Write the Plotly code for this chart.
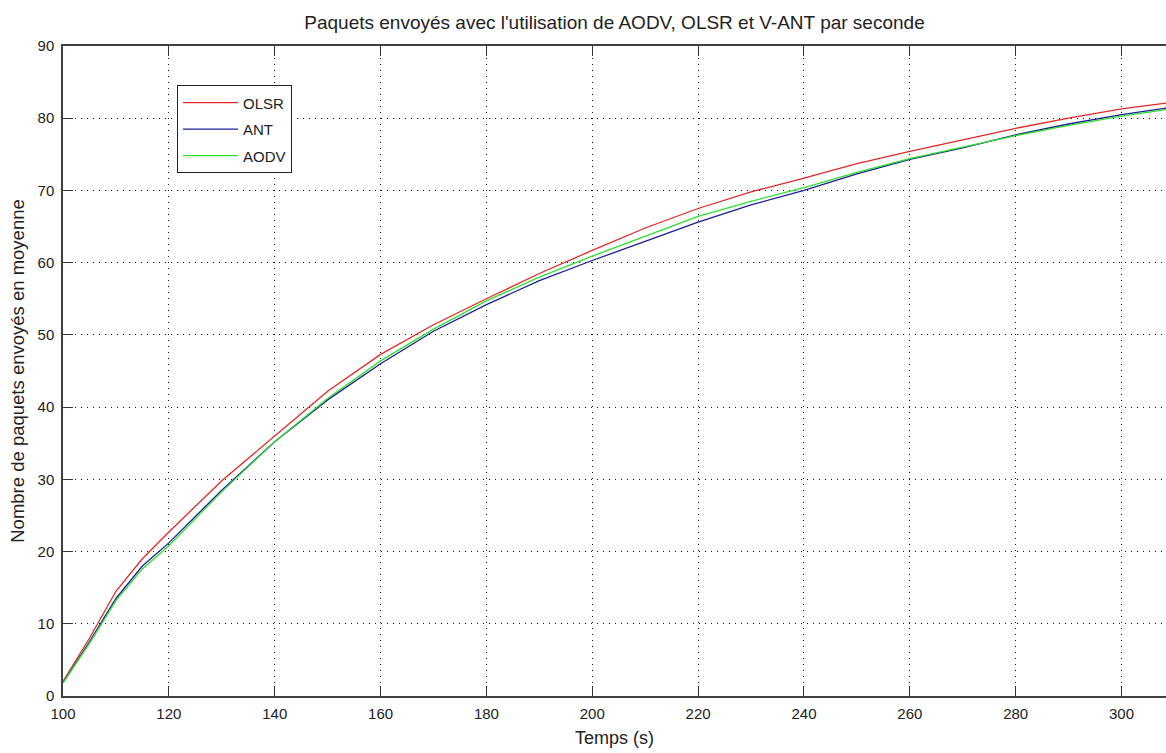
import plotly.graph_objects as go

temps = [100, 105, 110, 115, 120, 130, 140, 150, 160, 170, 180, 190, 200,
         210, 220, 230, 240, 250, 260, 270, 280, 290, 300, 308.4]
olsr = [2.0, 8.0, 14.5, 19.0, 22.7, 29.8, 36.0, 42.2, 47.3, 51.4, 55.0, 58.5, 61.7,
        64.8, 67.5, 69.8, 71.7, 73.7, 75.4, 77.0, 78.6, 80.0, 81.3, 82.1]
ant = [1.8, 7.5, 13.5, 18.0, 21.2, 28.5, 35.2, 41.0, 46.0, 50.5, 54.2, 57.5, 60.3,
       63.0, 65.6, 68.0, 70.0, 72.3, 74.3, 75.9, 77.7, 79.2, 80.5, 81.4]
aodv = [1.8, 7.3, 13.2, 17.6, 20.8, 28.3, 35.2, 41.2, 46.4, 50.8, 54.7, 58.0, 60.9,
        63.7, 66.4, 68.5, 70.4, 72.5, 74.4, 76.0, 77.6, 79.0, 80.3, 81.2]

x_ticks = [100, 120, 140, 160, 180, 200, 220, 240, 260, 280, 300]
y_ticks = [0, 10, 20, 30, 40, 50, 60, 70, 80, 90]

series = [("OLSR", olsr, "#e02828"), ("ANT", ant, "#1c1c96"), ("AODV", aodv, "#2ee02e")]

fig = go.Figure()
for name, vals, col in series:
    fig.add_trace(go.Scatter(x=temps, y=vals, mode="lines", name=name, legendgroup=name,
                             line=dict(color=col, width=1.3)))

font = "Liberation Sans, Arial, sans-serif"
fig.update_layout(
    width=1166, height=753,
    margin=dict(l=63, r=0, t=46, b=57),
    paper_bgcolor="white", plot_bgcolor="white",
    font=dict(family=font, size=15, color="#222"),
    title=dict(text="Paquets envoyés avec l'utilisation de AODV, OLSR et V-ANT par seconde",
               x=0.5, xref="paper", xanchor="center", y=1 - 22 / 753, yanchor="middle",
               font=dict(size=19, family=font, color="#222")),
    showlegend=True,
    legend=dict(x=(177 - 63) / 1103, y=(696 - 85) / 650.5, xanchor="left", yanchor="top",
                bgcolor="white", bordercolor="#222", borderwidth=1,
                font=dict(size=15, family=font, color="#222"),
                itemwidth=55, tracegroupgap=4, traceorder="grouped"),
    xaxis=dict(range=[100, 308.4], tickvals=x_ticks, ticktext=[str(v) for v in x_ticks],
               showgrid=True, gridcolor="#111", griddash="1px,5px", gridwidth=1.2,
               showline=True, linecolor="#404040", linewidth=1.5, mirror="ticks",
               ticks="inside", ticklen=10, tickcolor="#333", tickwidth=1.2,
               zeroline=False, tickfont=dict(size=15, color="#222"), ticklabelstandoff=3,
               title=dict(text="Temps (s)", font=dict(size=18, color="#222"), standoff=11)),
    yaxis=dict(range=[0, 90], tickvals=y_ticks, ticktext=[str(v) for v in y_ticks],
               showgrid=True, gridcolor="#111", griddash="1px,5px", gridwidth=1.2,
               showline=True, linecolor="#404040", linewidth=1.5, mirror=False,
               ticks="inside", ticklen=10, tickcolor="#333", tickwidth=1.2,
               zeroline=False, tickfont=dict(size=15, color="#222"), ticklabelstandoff=4,
               title=dict(text="Nombre de paquets envoyés en moyenne",
                          font=dict(size=18.5, color="#222"), standoff=8)),
)

fig.write_html("out.html")
